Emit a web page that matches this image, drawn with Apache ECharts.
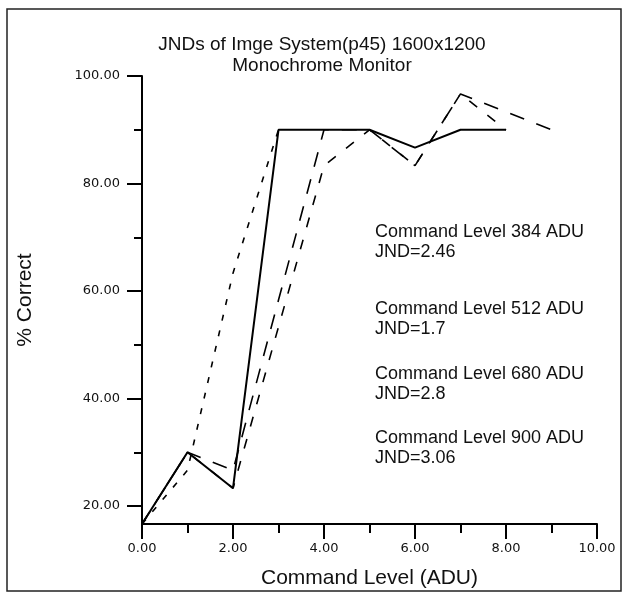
<!DOCTYPE html>
<html>
<head>
<meta charset="utf-8">
<script src="https://cdn.jsdelivr.net/npm/echarts@6/dist/echarts.min.js"></script>
<style>html,body{margin:0;padding:0;background:#fff}#main{width:629px;height:599px}</style>
</head>
<body>
<div id="main"></div>
<script>
// x: command level, y: % correct for each curve
var levels = [0, 1, 2, 3, 4, 5, 6, 7, 8, 9];
var pct384 = [16.67, 30, 23.33, 90, 90, 90, 86.67, 90, 90];
var pct512 = [16.67, 26.67, 63.33, 90];
var pct680 = [16.67, 30, 26.67, 58.33, 90, 90, 83.33, 96.67, 93.33, 90];
var pct900 = [16.67, 30, 23.33, 53.33, 83.33, 90, 83.33, 96.67, 90];
// ticks
var xMajor = [0, 2, 4, 6, 8, 10];
var xMinor = [1, 3, 5, 7, 9];
var yMajor = [20, 40, 60, 80, 100];
var yMinor = [30, 50, 70, 90];
var titleLines = ['JNDs of Imge System(p45) 1600x1200', 'Monochrome Monitor'];
var notes = ['Command Level 384 ADU\nJND=2.46', 'Command Level 512 ADU\nJND=1.7',
             'Command Level 680 ADU\nJND=2.8', 'Command Level 900 ADU\nJND=3.06'];
var noteTops = [222, 299, 364, 428];

function pairs(arr) {
  return arr.map(function (v, i) { return [levels[i], v]; });
}
function line(name, arr, type, w) {
  return {
    name: name, type: 'line', data: pairs(arr), showSymbol: false, symbol: 'none',
    lineStyle: {color: '#000', width: w, type: type}, silent: true, animation: false
  };
}
var lineC = {color: '#000', width: 2};
var fmt = function (v) { return Number(v).toFixed(2); };

var option = {
  animation: false,
  grid: {left: 142, right: 32, top: 76, bottom: 75, containLabel: false},
  xAxis: [{
    type: 'value', min: 0, max: 10,
    name: 'Command Level (ADU)', nameLocation: 'middle', nameGap: 44,
    nameTextStyle: {fontFamily: 'Liberation Sans', fontSize: 21, color: '#111'},
    axisLine: {onZero: false, lineStyle: lineC},
    axisTick: {customValues: xMajor, length: 15, lineStyle: lineC},
    axisLabel: {customValues: xMajor, formatter: fmt, margin: 18, fontFamily: 'DejaVu Sans', fontSize: 13, color: '#111'},
    splitLine: {show: false}
  }, {
    type: 'value', min: 0, max: 10, position: 'bottom',
    axisLine: {show: false, onZero: false},
    axisTick: {customValues: xMinor, length: 9, lineStyle: lineC},
    axisLabel: {show: false}, splitLine: {show: false}
  }],
  yAxis: [{
    type: 'value', min: 16.67, max: 100,
    name: '% Correct', nameLocation: 'middle', nameGap: 106, nameRotate: 90,
    nameTextStyle: {fontFamily: 'Liberation Sans', fontSize: 21, color: '#111'},
    axisLine: {onZero: false, lineStyle: lineC},
    axisTick: {customValues: yMajor, length: 15, lineStyle: lineC},
    axisLabel: {customValues: yMajor, formatter: fmt, margin: 22, fontFamily: 'DejaVu Sans', fontSize: 13, color: '#111'},
    splitLine: {show: false}
  }, {
    type: 'value', min: 16.67, max: 100, position: 'left',
    axisLine: {show: false, onZero: false},
    axisTick: {customValues: yMinor, length: 8, lineStyle: lineC},
    axisLabel: {show: false}, splitLine: {show: false}
  }],
  series: [
    line('384', pct384, 'solid', 2),
    line('512', pct512, [6, 10], 1.6),
    line('680', pct680, [15, 13], 1.6),
    line('900', pct900, [10, 13], 1.6)
  ],
  graphic: [{
    type: 'rect', shape: {x: 7, y: 9, width: 614, height: 582},
    style: {fill: null, stroke: '#222', lineWidth: 1.5}, silent: true
  }].concat(titleLines.map(function (t, i) {
    return {
      type: 'text', x: 322, y: 45 + i * 21, silent: true,
      style: {text: t, fontFamily: 'Liberation Sans', fontSize: 19, fill: '#111', align: 'center', verticalAlign: 'middle'}
    };
  })).concat(notes.map(function (t, i) {
    return {
      type: 'text', x: 375, y: noteTops[i], silent: true,
      style: {text: t, fontFamily: 'Liberation Sans', fontSize: 18, lineHeight: 20, fill: '#111'}
    };
  }))
};

var myChart = echarts.init(document.getElementById('main'));
myChart.setOption(option);
</script>
</body>
</html>
